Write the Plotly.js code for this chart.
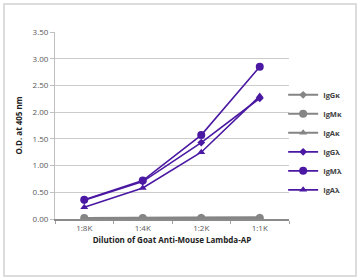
<!DOCTYPE html>
<html><head><meta charset="utf-8">
<script src="https://cdn.plot.ly/plotly-3.0.1.min.js"></script>
<style>
html,body{margin:0;padding:0;background:#fff;}
#frame{position:absolute;left:3px;top:3px;width:350px;height:270px;border:2px solid #dcdcdc;}
#chart{position:absolute;left:0;top:0;width:359px;height:278px;}
</style></head>
<body>
<div id="frame"></div>
<div id="chart"></div>
<script>
const dilutions = ['1:8K','1:4K','1:2K','1:1K'];
const seriesNames = ['IgG\u03ba','IgM\u03ba','IgA\u03ba','IgG\u03bb','IgM\u03bb','IgA\u03bb'];
const IgGk = [0.02, 0.02, 0.03, 0.03];
const IgMk = [0.02, 0.02, 0.02, 0.02];
const IgAk = [0.02, 0.02, 0.02, 0.03];
const IgGl = [0.35, 0.70, 1.43, 2.26];
const IgMl = [0.36, 0.72, 1.57, 2.85];
const IgAl = [0.22, 0.58, 1.25, 2.30];
const yTicks = [0, 0.5, 1, 1.5, 2, 2.5, 3, 3.5];

const gray = '#858585', purple = '#4a18a2';
const values = [IgGk, IgMk, IgAk, IgGl, IgMl, IgAl];
const symbols = ['diamond','circle','triangle-up','diamond','circle','triangle-up'];
const sizes = [6, 8, 7, 6, 8, 7];
const traces = values.map((v, i) => ({
  x: dilutions, y: v, name: seriesNames[i], type: 'scatter', mode: 'lines+markers',
  line: {color: i < 3 ? gray : purple, width: i < 3 ? 2 : 1.6},
  marker: {color: i < 3 ? gray : purple, symbol: symbols[i], size: sizes[i]}
}));

const font = 'Open Sans, Noto Sans, sans-serif';
Plotly.newPlot('chart', traces, {
  width: 359, height: 278,
  margin: {l: 55, r: 61, t: 32, b: 59, pad: 0},
  paper_bgcolor: 'rgba(0,0,0,0)', plot_bgcolor: 'rgba(0,0,0,0)',
  font: {family: font, size: 8, color: '#595959'},
  showlegend: true,
  legend: {x: 0.975, xanchor: 'left', y: 0.41, yanchor: 'middle',
    font: {family: font, size: 7.5, color: '#404040', weight: 'bold'},
    bgcolor: 'rgba(0,0,0,0)', borderwidth: 0, tracegroupgap: 0},
  xaxis: {type: 'category', range: [-0.5, 3.5], showgrid: false,
    showline: true, linecolor: '#8a8a8a', linewidth: 2, zeroline: false,
    ticks: 'outside', tickson: 'boundaries', ticklen: 3, tickcolor: '#a0a0a0',
    tickfont: {size: 8, color: '#595959'},
    title: {text: 'Dilution of Goat Anti-Mouse Lambda-AP', standoff: 6,
      font: {size: 8, color: '#222', weight: 'bold'}}},
  yaxis: {range: [0, 3.5], tickvals: yTicks, tickformat: '.2f',
    showgrid: true, gridcolor: '#cccccc', gridwidth: 1, zeroline: false,
    showline: true, linecolor: '#c0c0c0', linewidth: 1,
    ticks: 'outside', ticklen: 4, tickcolor: '#c0c0c0',
    tickfont: {size: 8, color: '#595959'},
    title: {text: 'O.D. at 405 nm', standoff: 8,
      font: {size: 8, color: '#222', weight: 'bold'}}}
}, {displayModeBar: false, staticPlot: true});
</script>
</body></html>
